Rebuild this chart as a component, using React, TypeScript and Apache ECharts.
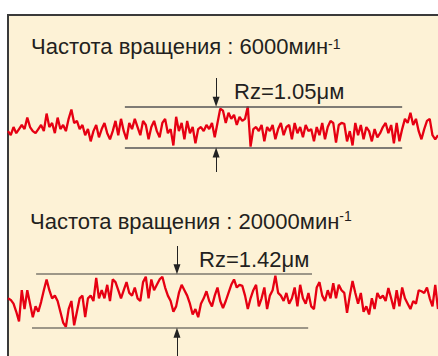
import React, { useEffect, useRef } from "react";
import * as echarts from "echarts";

// Profile traces (relative height, 0 = lower Rz line, 100 = upper Rz line)
const trace6000 = [
  40, 30, 50, 35, 45, 55, 45, 73, 50, 40, 35, 45, 55, 40, 83, 50, 60, 35, 73, 45,
  55, 40, 70, 93, 60, 65, 45, 55, 30, 45, 15, 40, 55, 25, 45, 60, 35, 20,
  40, 65, 30, 70, 40, 20, 60, 45, 70, 50, 30, 65, 55, 20, 50, 65, 40, 25, 60, 70,
  35, 45, 5, 75, 40, 60, 20, 65, 35, 50, 10, 45, 50, 40, 55, 45, 60, 25, 60, 95,
  90, 60, 85, 70, 80, 55, 75, 65, 70, 100, 2, 45, 50, 40, 55, 15, 50, 40, 55, 20,
  45, 60, 30, 50, 55, 20, 60, 35, 50, 25, 55, 40, 45, 15, 50, 30, 60, 20, 50, 65,
  60, 12, 55, 60, 58, 15, 40, 5, 60, 30, 55, 20, 50, 40, 15, 45, 25, 35, 50, 60,
  35, 55, 10, 60, 15, 45, 70, 60, 85, 55, 70, 40, 20, 45, 65, 70, 30, 20, 30,
];
const trace20000 = [
  55, 52, 45, 30, 12, 70, 35, 70, 45, 20, 40, 30, 48, 70, 90, 70, 55, 60, 50, 30,
  10, 2, 35, 50, 5, 30, 55, 60, 20, 55, 60, 50, 93, 55, 70, 55, 80, 50,
  90, 85, 70, 55, 70, 85, 65, 60, 75, 55, 50, 85, 95, 55, 90, 70, 80, 90, 95, 75,
  60, 50, 30, 40, 65, 80, 70, 60, 45, 25, 35, 20, 45, 55, 68, 50, 40, 60, 75, 50,
  37, 50, 65, 80, 90, 75, 80, 78, 60, 35, 55, 70, 80, 40, 55, 75, 35, 60, 70, 97,
  65, 60, 50, 65, 45, 55, 75, 40, 80, 55, 45, 65, 40, 35, 75, 85, 60, 50, 70, 55,
  83, 55, 80, 70, 65, 28, 60, 87, 65, 45, 65, 30, 40, 25, 55, 35, 65, 55, 60, 50,
  74, 55, 35, 70, 40, 75, 55, 45, 35, 50, 45, 70, 68, 65, 75, 55, 40, 80, 35,
];
const speedTitles = ["Частота вращения : 6000мин", "Частота вращения : 20000мин"];
const speedSup = "-1";
const rzLabels = ["Rz=1.05μм", "Rz=1.42μм"];
// annotation spans in sample-index units
const rzSpan1 = { top: [42.4, 143], bottom: [42.4, 143], arrow: 75.5 };
const rzSpan2 = { top: [10.2, 110.3], bottom: [8.7, 108.9], arrow: 61.3 };

const FONT = "'Liberation Sans', Arial, Helvetica, sans-serif";

function measure(text: string, font: string): number {
  const ctx = document.createElement("canvas").getContext("2d");
  if (!ctx) return text.length * 10;
  ctx.font = font;
  return ctx.measureText(text).width;
}

export default function App() {
  const ref = useRef<HTMLDivElement>(null);
  useEffect(() => {
    if (!ref.current) return;
    const chart = echarts.init(ref.current, undefined, { renderer: "svg" });
    const n1 = trace6000.length - 1;
    const n2 = trace20000.length - 1;
    const w1 = measure(speedTitles[0], `22px ${FONT}`);
    const w2 = measure(speedTitles[1], `22px ${FONT}`);

    const refStyle1 = { color: "#555", width: 1.5, type: "solid" as const };
    const refStyle2 = { color: "#7d786e", width: 1.5, type: "solid" as const };
    const arrowStyle = { color: "#222", width: 1, type: "solid" as const };

    const txt = (x: number, y: number, text: string, size: number) => ({
      type: "text",
      x,
      y,
      silent: true,
      style: {
        text,
        fill: "#231f20",
        font: `${size}px ${FONT}`,
        verticalAlign: "middle",
        align: "left",
      },
    });

    chart.setOption({
      animation: false,
      backgroundColor: "#ffffff",
      grid: [
        { left: 8, right: 0, top: 78, height: 94 },
        { left: 8, right: 0, top: 246, height: 110 },
      ],
      xAxis: [
        { type: "value", gridIndex: 0, min: 0, max: n1, show: false },
        { type: "value", gridIndex: 1, min: 0, max: n2, show: false },
      ],
      yAxis: [
        { type: "value", gridIndex: 0, min: -60, max: 170, show: false },
        { type: "value", gridIndex: 1, min: -52, max: 152, show: false },
      ],
      graphic: [
        {
          type: "rect",
          z: -10,
          silent: true,
          shape: { x: 8, y: 15, width: 440, height: 350 },
          style: { fill: "#fdf2d6", stroke: "#3a3a3a", lineWidth: 2 },
        },
        txt(31, 46.4, speedTitles[0], 22),
        txt(31 + w1, 44.3, speedSup, 14),
        txt(30, 221.4, speedTitles[1], 22),
        txt(30 + w2, 215.8, speedSup, 14),
        txt(234, 91.4, rzLabels[0], 22),
        txt(199, 259.4, rzLabels[1], 22),
      ],
      series: [
        {
          type: "line",
          xAxisIndex: 0,
          yAxisIndex: 0,
          data: trace6000.map((v, i) => [i, v]),
          showSymbol: false,
          symbol: "none",
          silent: true,
          lineStyle: { color: "#e60012", width: 2.3 },
          markLine: {
            silent: true,
            symbol: ["none", "none"],
            label: { show: false },
            lineStyle: refStyle1,
            data: [
              [{ coord: [rzSpan1.top[0], 100] }, { coord: [rzSpan1.top[1], 100] }],
              [{ coord: [rzSpan1.bottom[0], 0] }, { coord: [rzSpan1.bottom[1], 0] }],
              [
                { coord: [rzSpan1.arrow, 170], lineStyle: arrowStyle },
                { coord: [rzSpan1.arrow, 112], symbol: "triangle", symbolSize: [7, 10], itemStyle: { color: "#222" } },
              ],
              [
                { coord: [rzSpan1.arrow, -60], lineStyle: arrowStyle },
                { coord: [rzSpan1.arrow, -12], symbol: "triangle", symbolSize: [7, 10], itemStyle: { color: "#222" } },
              ],
            ],
          },
        },
        {
          type: "line",
          xAxisIndex: 1,
          yAxisIndex: 1,
          data: trace20000.map((v, i) => [i, v]),
          showSymbol: false,
          symbol: "none",
          silent: true,
          lineStyle: { color: "#e60012", width: 2.3 },
          markLine: {
            silent: true,
            symbol: ["none", "none"],
            label: { show: false },
            lineStyle: refStyle2,
            data: [
              [{ coord: [rzSpan2.top[0], 100] }, { coord: [rzSpan2.top[1], 100] }],
              [{ coord: [rzSpan2.bottom[0], 0] }, { coord: [rzSpan2.bottom[1], 0] }],
              [
                { coord: [rzSpan2.arrow, 152], lineStyle: arrowStyle },
                { coord: [rzSpan2.arrow, 109], symbol: "triangle", symbolSize: [7, 10], itemStyle: { color: "#222" } },
              ],
              [
                { coord: [rzSpan2.arrow, -52], lineStyle: arrowStyle },
                { coord: [rzSpan2.arrow, -9], symbol: "triangle", symbolSize: [7, 10], itemStyle: { color: "#222" } },
              ],
            ],
          },
        },
      ],
    });
    return () => chart.dispose();
  }, []);
  return (
    <div
      ref={ref}
      style={{ position: "fixed", left: 0, top: 0, width: 438, height: 356, background: "#fff" }}
    />
  );
}
